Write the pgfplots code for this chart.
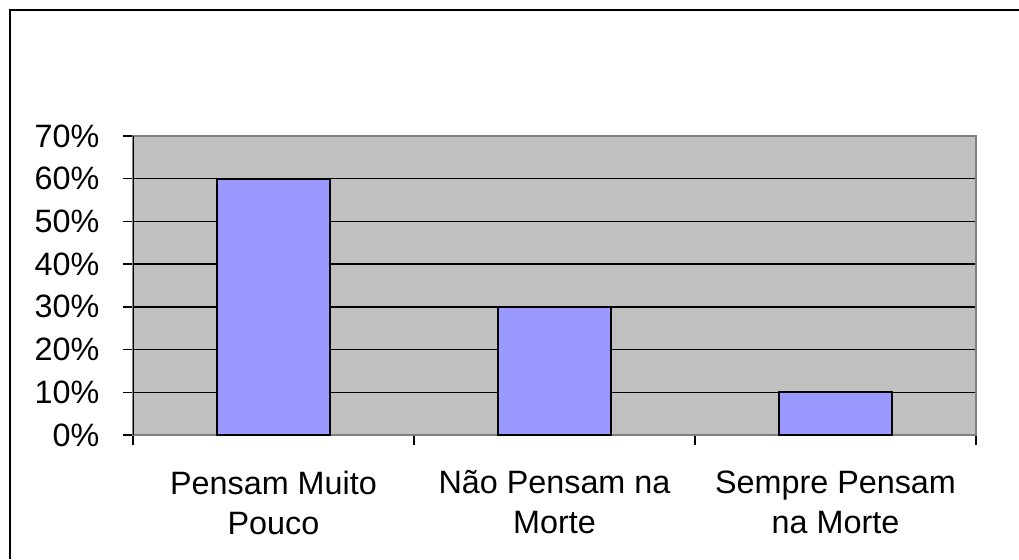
\documentclass[border=0pt]{standalone}
\usepackage{fontspec}
\setmainfont{Liberation Sans}
\usepackage{pgfplots}
\pgfplotsset{compat=1.18}
\definecolor{plotgray}{HTML}{C0C0C0}
\definecolor{barblue}{HTML}{9999FF}
\begin{document}
\begin{tikzpicture}
\useasboundingbox (0,0) rectangle (10.19cm,5.59cm);
\draw[black, line width=0.025cm] (0.10cm,0) -- (0.10cm,5.49cm) -- (10.19cm,5.49cm);
\begin{axis}[
  at={(1.33cm,1.24cm)}, anchor=south west,
  scale only axis, width=8.43cm, height=2.99cm,
  ybar, bar width=0.4,
  xmin=0.5, xmax=3.5, ymin=0, ymax=70,
  axis background/.style={fill=plotgray},
  axis line style={draw=gray, line width=0.015cm},
  tick pos=left, tick align=outside,
  major tick length=0.1cm,
  tick style={black, line width=0.015cm},
  ytick={0,10,...,70},
  yticklabels={0\%,10\%,20\%,30\%,40\%,50\%,60\%,70\%},
  yticklabel style={font=\fontsize{9.2}{11.4}\selectfont, anchor=east, inner sep=0pt, xshift=-0.23cm},
  ymajorgrids, grid style={black, line width=0.015cm},
  xtick={0.5,1.5,2.5,3.5}, xticklabels={},
  extra x ticks={1,2,3},
  extra x tick labels={{Pensam Muito\\Pouco},{Não Pensam na\\Morte},{Sempre Pensam\\na Morte}},
  extra x tick style={major tick length=0pt, grid=none,
    xticklabel style={font=\fontsize{9.2}{11.4}\selectfont, align=center, anchor=north, inner sep=0pt, yshift=-0.35cm}},
]
\addplot[fill=barblue, draw=black, line width=0.02cm] coordinates {(1,60) (2,30) (3,10)};
\draw[black, line width=0.02cm] (rel axis cs:0,0) -- (rel axis cs:0,1);
\end{axis}
\end{tikzpicture}
\end{document}
